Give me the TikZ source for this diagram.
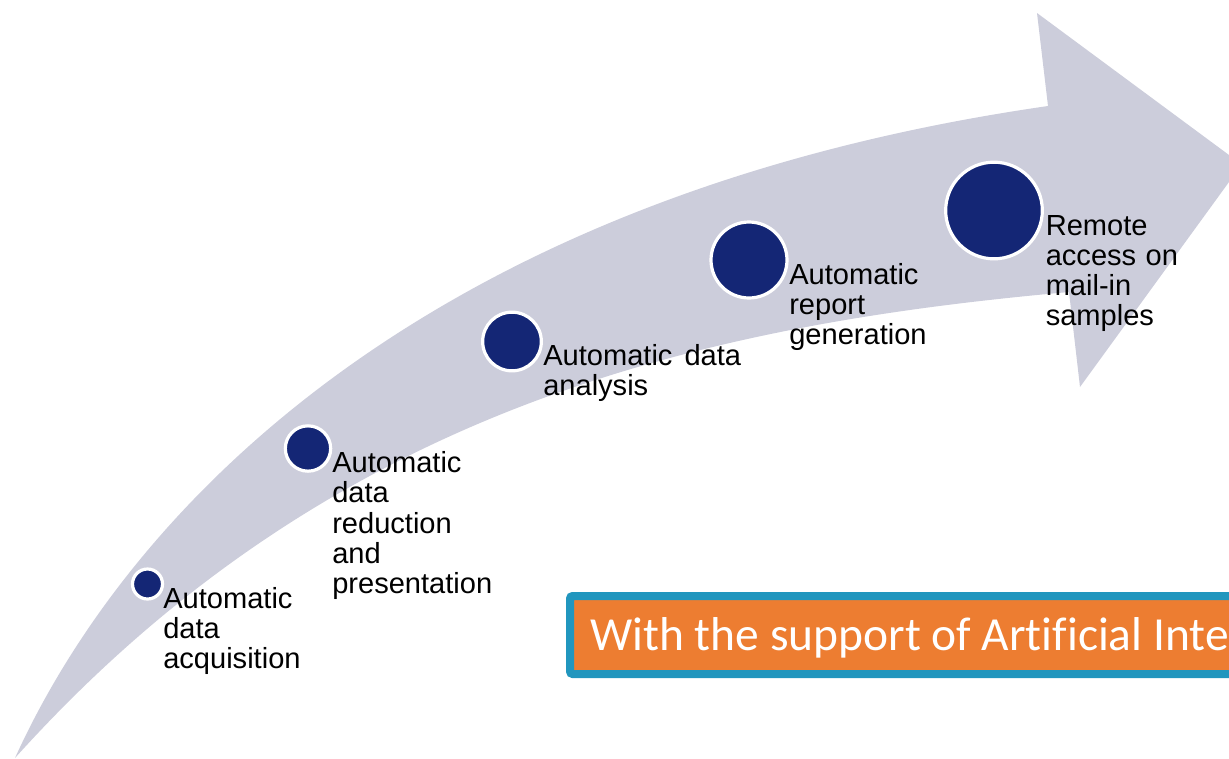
\documentclass[tikz,border=0pt]{standalone}
\usepackage{fontspec}
\setmainfont{Liberation Sans}
\newfontfamily\boxfont[Ligatures=NoCommon]{Carlito}
\definecolor{arrowgrey}{RGB}{204,205,219}
\definecolor{dotblue}{RGB}{20,38,117}
\definecolor{boxorange}{RGB}{237,125,49}
\definecolor{boxteal}{RGB}{33,150,190}
\tikzset{
  dot/.style={circle,fill=dotblue,draw=white,line width=2.4pt,inner sep=0pt},
  lab/.style={anchor=north west,align=left,inner sep=0pt,font=\fontsize{21.8pt}{22.6pt}\selectfont,text=black},
}
\begin{document}
\begin{tikzpicture}[x=0.75pt,y=-0.75pt]
\useasboundingbox (0,0) rectangle (1229,758);
\fill[arrowgrey] (15,758) .. controls (130,505) and (430,195) .. (1048,106)
  -- (1037,13) -- (1229,155) -- (1229,182) -- (1080,387) -- (1069,292)
  .. controls (700,325) and (330,408) .. (15,758) -- cycle;
\node[dot,minimum size=22.5pt] (d1) at (147.5,584) {};
\node[dot,minimum size=34pt] (d2) at (308,448.5) {};
\node[dot,minimum size=44pt] (d3) at (512,341.5) {};
\node[dot,minimum size=57pt] (d4) at (749,260) {};
\node[dot,minimum size=72.5pt] (d5) at (994,210.5) {};
\node[lab] (t1) at (163,587) {Automatic\\data\\acquisition};
\node[lab] (t2) at (332,451.5) {Automatic\\data\\reduction\\and\\presentation};
\node[lab] (t3) at (543,344.5) {Automatic\hspace{3pt} data\\analysis};
\node[lab] (t4) at (789,263) {Automatic\\report\\generation};
\node[lab] (t5) at (1045.5,215) {Remote\\access\hspace{1pt} on\\mail-in\\samples};
\begin{scope}
\clip (0,0) rectangle (1229,758);
\draw[draw=boxteal,fill=boxorange,line width=6pt,rounded corners=2pt] (570,596) rectangle (1300,674);
\node[anchor=base west,inner sep=0pt,text=white,font=\boxfont\fontsize{35.6pt}{38pt}\selectfont] (b) at (590,650) {With the support of Artificial Inte};
\end{scope}
\end{tikzpicture}
\end{document}
